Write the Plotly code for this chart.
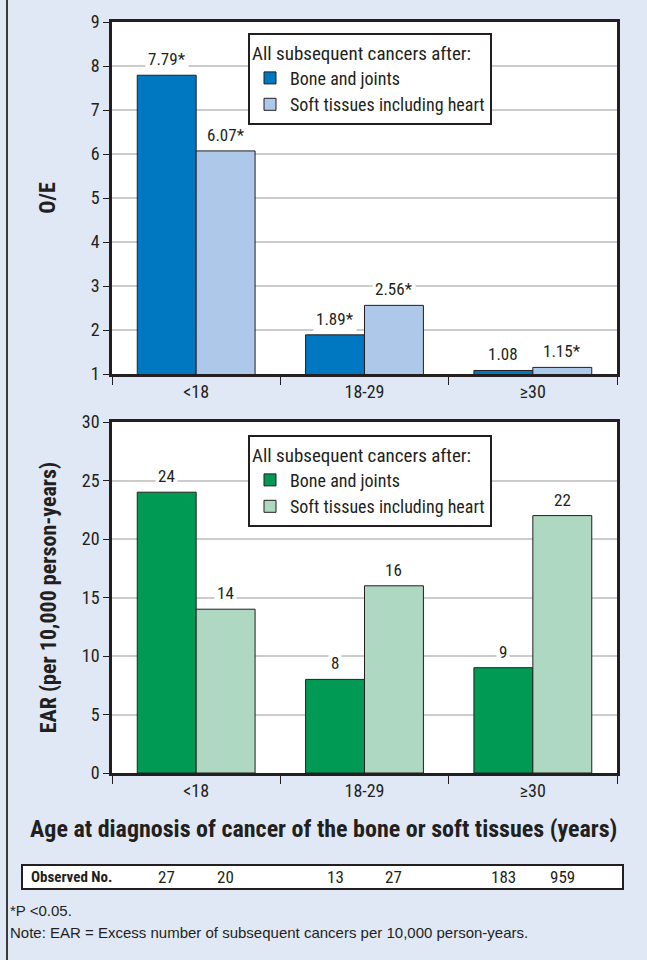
import plotly.graph_objects as go

# ---------------- data ----------------
age_groups = ["<18", "18-29", "≥30"]
series_names = ["Bone and joints", "Soft tissues including heart"]

oe_bone = [7.79, 1.89, 1.08]
oe_soft = [6.07, 2.56, 1.15]
oe_bone_sig = [True, True, False]
oe_soft_sig = [True, True, True]

ear_bone = [24, 8, 9]
ear_soft = [14, 16, 22]

observed_bone = [27, 13, 183]
observed_soft = [20, 27, 959]

oe_ticks = [1, 2, 3, 4, 5, 6, 7, 8, 9]
ear_ticks = [0, 5, 10, 15, 20, 25, 30]

# ---------------- style ----------------
W, H = 647, 960
BG = "#e0e8f6"
INK = "#231f20"
GRID = "#cccccc"
FONT = "Roboto Condensed, Liberation Sans Narrow, Arial Narrow, sans-serif"
BLUE_D, BLUE_L = "#0077c1", "#adc8e8"
GREEN_D, GREEN_L = "#009a55", "#aed8c1"

X0, X1 = 112 / W, 617 / W
TOP_DOM = [1 - 374 / H, 1 - 22 / H]
BOT_DOM = [1 - 773 / H, 1 - 422 / H]
BARGAP = 0.30

fig = go.Figure()

bar_line = dict(color=INK, width=1)
fig.add_trace(go.Bar(x=age_groups, y=oe_bone, name=series_names[0], marker=dict(color=BLUE_D, line=bar_line),
                     xaxis="x", yaxis="y", legend="legend"))
fig.add_trace(go.Bar(x=age_groups, y=oe_soft, name=series_names[1], marker=dict(color=BLUE_L, line=bar_line),
                     xaxis="x", yaxis="y", legend="legend"))
fig.add_trace(go.Bar(x=age_groups, y=ear_bone, name=series_names[0], marker=dict(color=GREEN_D, line=bar_line),
                     xaxis="x2", yaxis="y2", legend="legend2"))
fig.add_trace(go.Bar(x=age_groups, y=ear_soft, name=series_names[1], marker=dict(color=GREEN_L, line=bar_line),
                     xaxis="x2", yaxis="y2", legend="legend2"))

# pixel offset of each bar centre from its category centre
plot_w = W * (X1 - X0)
cat_w = plot_w / len(age_groups)
bar_w = cat_w * (1 - BARGAP) / 2
shift = bar_w / 2

ann = []
def label(xref, yref, cat, val, text, dx):
    ann.append(dict(x=cat, y=val, xref=xref, yref=yref, text=text, showarrow=False,
                    xshift=dx, yshift=3, yanchor="bottom", bgcolor="white", borderpad=2,
                    font=dict(family=FONT, size=17, color=INK)))

for i, c in enumerate(age_groups):
    label("x", "y", c, oe_bone[i], f"{oe_bone[i]:.2f}" + ("*" if oe_bone_sig[i] else ""), -shift)
    label("x", "y", c, oe_soft[i], f"{oe_soft[i]:.2f}" + ("*" if oe_soft_sig[i] else ""), shift)
    label("x2", "y2", c, ear_bone[i], f"{ear_bone[i]}", -shift)
    label("x2", "y2", c, ear_soft[i], f"{ear_soft[i]}", shift)

# observed numbers table
obs_y = 1 - 877 / H
ann.append(dict(x=29 / W, y=obs_y, xref="paper", yref="paper", text="<b>Observed No.</b>", showarrow=False,
                xanchor="left", yanchor="middle", font=dict(family=FONT, size=15, color=INK)))
for i, c in enumerate(age_groups):
    for val, dx in ((observed_bone[i], -shift), (observed_soft[i], shift)):
        ann.append(dict(x=c, y=obs_y, xref="x2", yref="paper", text=str(val), showarrow=False,
                        xshift=dx, yanchor="middle", font=dict(family=FONT, size=17, color=INK)))

# x title
ann.append(dict(x=323 / W, y=1 - 829 / H, xref="paper", yref="paper",
                text="<b>Age at diagnosis of cancer of the bone or soft tissues (years)</b>",
                showarrow=False, yanchor="middle", font=dict(family=FONT, size=24, color=INK)))

# footnotes
NOTE_FONT = dict(family="Liberation Sans, Arial, sans-serif", size=15, color=INK)
ann.append(dict(x=8 / W, y=1 - 910 / H, xref="paper", yref="paper", text="*P <0.05.", showarrow=False,
                xanchor="left", yanchor="middle", font=NOTE_FONT))
ann.append(dict(x=8 / W, y=1 - 932 / H, xref="paper", yref="paper",
                text="Note: EAR = Excess number of subsequent cancers per 10,000 person-years.",
                showarrow=False, xanchor="left", yanchor="middle", font=NOTE_FONT))

shapes = [
    dict(type="line", xref="paper", yref="paper", x0=7 / W, x1=7 / W, y0=0, y1=1,
         line=dict(color="#3a3a3a", width=2)),
    dict(type="rect", xref="paper", yref="paper", x0=22 / W, x1=623 / W, y0=1 - 889 / H, y1=1 - 865 / H,
         line=dict(color=INK, width=2), fillcolor="white", layer="below"),
]

tick_font = dict(family=FONT, size=18, color=INK)
xcommon = dict(type="category", categoryorder="array", categoryarray=age_groups, automargin=False,
               showline=True, linewidth=2.5, linecolor=INK, mirror=True,
               ticks="outside", tickson="boundaries", ticklen=8, tickwidth=1.2, tickcolor=INK,
               showgrid=False, tickfont=tick_font)
ycommon = dict(showline=True, linewidth=2.5, linecolor=INK, mirror=True, automargin=False,
               ticks="outside", ticklen=6, tickwidth=1.2, tickcolor=INK,
               showgrid=True, gridcolor=GRID, gridwidth=1.5, zeroline=False, tickfont=tick_font)

legend_common = dict(bgcolor="white", bordercolor=INK, borderwidth=2,
                     font=dict(family=FONT, size=18, color=INK),
                     title=dict(text="All subsequent cancers after:", font=dict(family=FONT, size=19, color=INK)),
                     xanchor="left", yanchor="top", tracegroupgap=0, itemwidth=30)

fig.update_layout(
    width=W, height=H, autosize=False,
    margin=dict(l=0, r=0, t=0, b=0, autoexpand=False),
    paper_bgcolor=BG, plot_bgcolor="white",
    barmode="group", bargap=BARGAP, bargroupgap=0,
    font=dict(family=FONT, color=INK),
    xaxis=dict(domain=[X0, X1], anchor="y", **xcommon),
    yaxis=dict(domain=TOP_DOM, anchor="x", range=[1, 9], tickvals=oe_ticks,
               title=dict(text="<b>O/E</b>", font=dict(family=FONT, size=22, color=INK), standoff=30),
               **ycommon),
    xaxis2=dict(domain=[X0, X1], anchor="y2", **xcommon),
    yaxis2=dict(domain=BOT_DOM, anchor="x2", range=[0, 30], tickvals=ear_ticks,
                title=dict(text="<b>EAR (per 10,000 person-years)</b>", font=dict(family=FONT, size=22, color=INK),
                           standoff=20),
                **ycommon),
    legend=dict(x=248 / W, y=1 - 33 / H, **legend_common),
    legend2=dict(x=248 / W, y=1 - 435 / H, **legend_common),
    annotations=ann,
    shapes=shapes,
    showlegend=True,
)

fig.write_html("out.html", config={"displayModeBar": False},
               post_script="document.body.style.margin='0';")
